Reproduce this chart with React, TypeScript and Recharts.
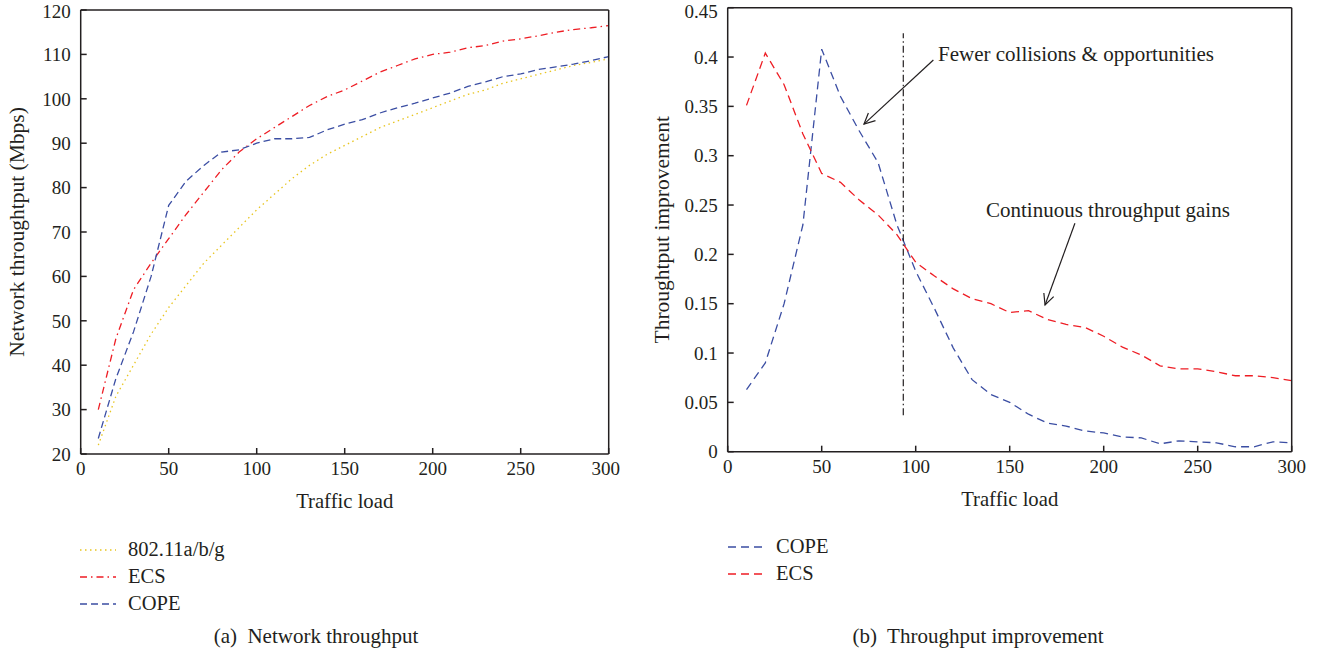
import React from 'react';
import { LineChart, Line, XAxis, YAxis, ReferenceLine, ReferenceDot } from 'recharts';

const trafficLoad = [10, 20, 30, 40, 50, 60, 70, 80, 90, 100, 110, 120, 130, 140, 150, 160, 170, 180, 190, 200, 210, 220, 230, 240, 250, 260, 270, 280, 290, 300];

const base80211 = [22, 33, 40, 47, 53, 58, 63, 67, 71, 75, 78.5, 82, 85, 87.5, 89.5, 91.5, 93.5, 95, 96.5, 98, 99.5, 101, 102, 103.5, 104.5, 105.5, 106.5, 107.5, 108.2, 109];
const ecsThroughput = [30, 46, 57, 63, 68.5, 74, 79, 84, 88, 91, 93.5, 96, 98.5, 100.5, 102, 104, 106, 107.5, 109, 110, 110.5, 111.5, 112, 113, 113.5, 114.2, 115, 115.6, 116, 116.5];
const copeThroughput = [23.5, 37, 47.5, 60, 76, 81.5, 85, 88, 88.5, 90, 91, 91, 91.3, 93, 94.3, 95.3, 96.8, 98, 99, 100.2, 101.3, 102.8, 103.8, 105, 105.6, 106.6, 107.2, 107.8, 108.6, 109.5];

const copeImprovement = [0.063, 0.09, 0.15, 0.23, 0.408, 0.36, 0.325, 0.293, 0.23, 0.183, 0.145, 0.105, 0.073, 0.058, 0.05, 0.038, 0.029, 0.026, 0.021, 0.019, 0.015, 0.014, 0.008, 0.011, 0.01, 0.009, 0.005, 0.005, 0.01, 0.009];
const ecsImprovement = [0.351, 0.404, 0.372, 0.322, 0.282, 0.273, 0.255, 0.24, 0.22, 0.192, 0.178, 0.165, 0.155, 0.15, 0.141, 0.143, 0.134, 0.129, 0.126, 0.117, 0.106, 0.098, 0.087, 0.084, 0.084, 0.081, 0.077, 0.077, 0.075, 0.072];

const xTicks = [0, 50, 100, 150, 200, 250, 300];
const leftYTicks = [20, 30, 40, 50, 60, 70, 80, 90, 100, 110, 120];
const rightYTicks = [0, 0.05, 0.1, 0.15, 0.2, 0.25, 0.3, 0.35, 0.4, 0.45];

const FONT = '"Liberation Serif", "DejaVu Serif", serif';
const INK = '#231f20';
const RED = '#ee1d24';
const BLUE = '#3b4ea3';
const YELLOW = '#e8c520';

const leftData = trafficLoad.map((load, i) => ({
  load,
  base: base80211[i],
  ecs: ecsThroughput[i],
  cope: copeThroughput[i],
}));
const rightData = trafficLoad.map((load, i) => ({
  load,
  cope: copeImprovement[i],
  ecs: ecsImprovement[i],
}));

const leftSeries = [
  { key: 'base', name: '802.11a/b/g', color: YELLOW, dash: '1.5 3.5' },
  { key: 'ecs', name: 'ECS', color: RED, dash: '7 4 1.5 4' },
  { key: 'cope', name: 'COPE', color: BLUE, dash: '7 4' },
];
const rightSeries = [
  { key: 'cope', name: 'COPE', color: BLUE, dash: '8 5' },
  { key: 'ecs', name: 'ECS', color: RED, dash: '8 5' },
];

const tickStyle = { fontFamily: FONT, fontSize: 19, fill: INK };

function LegendBox({ series, left, top }: { series: typeof leftSeries; left: number; top: number }) {
  return (
    <div style={{ position: 'absolute', left, top, fontFamily: FONT, fontSize: 20.5, color: INK }}>
      {series.map((s) => (
        <div key={s.name} style={{ display: 'flex', alignItems: 'center', height: 27 }}>
          <svg width={36} height={10} style={{ marginRight: 12 }}>
            <line x1={0} y1={5} x2={36} y2={5} stroke={s.color} strokeWidth={1.3} strokeDasharray={s.dash} />
          </svg>
          <span>{s.name}</span>
        </div>
      ))}
    </div>
  );
}

const rotatedLabel = (text: string, dx: number) => (props: any) => {
  const vb = props.viewBox || {};
  const cx = vb.x + dx;
  const cy = vb.y + vb.height / 2;
  return (
    <text x={cx} y={cy} transform={`rotate(-90 ${cx} ${cy})`} textAnchor="middle" dominantBaseline="central"
      style={{ fontFamily: FONT, fontSize: 21.5, fill: INK }}>
      {text}
    </text>
  );
};

const bottomLabel = (props: any) => {
  const vb = props.viewBox || {};
  return (
    <text x={vb.x + vb.width / 2} y={vb.y + 54} textAnchor="middle" style={{ fontFamily: FONT, fontSize: 20.7, fill: INK }}>
      Traffic load
    </text>
  );
};

const arrowShape = (props: any) => {
  const { x1, y1, x2, y2 } = props;
  const ang = Math.atan2(y2 - y1, x2 - x1);
  const len = 12;
  const spread = 0.45;
  const ax = x2 - len * Math.cos(ang - spread);
  const ay = y2 - len * Math.sin(ang - spread);
  const bx = x2 - len * Math.cos(ang + spread);
  const by = y2 - len * Math.sin(ang + spread);
  return (
    <g>
      <line x1={x1} y1={y1} x2={x2} y2={y2} stroke={INK} strokeWidth={1.2} />
      <polyline points={`${ax},${ay} ${x2},${y2} ${bx},${by}`} fill="none" stroke={INK} strokeWidth={1.2} />
    </g>
  );
};

const textShape = (text: string) => (props: any) => (
  <text x={props.cx} y={props.cy} textAnchor="start" style={{ fontFamily: FONT, fontSize: 21, fill: INK }}>
    {text}
  </text>
);

const fmtRight = (v: number) => String(Number(v.toFixed(2)));

export default function App() {
  return (
    <div style={{ position: 'absolute', left: 0, top: 0, width: 1324, height: 652, background: '#fff' }}>
      <div style={{ position: 'absolute', left: 0, top: 0 }}>
        <LineChart width={620} height={652} data={leftData} margin={{ top: 5, right: 6.3, left: 20.7, bottom: 138 }}>
          <XAxis type="number" dataKey="load" domain={[0, 300]} ticks={xTicks} height={60}
            stroke={INK} strokeWidth={1.5} tickSize={-6} tickMargin={14} tick={tickStyle}
            label={{ content: bottomLabel }} />
          <XAxis xAxisId="top" orientation="top" type="number" dataKey="load" domain={[0, 300]} ticks={xTicks} height={5}
            stroke={INK} strokeWidth={1.5} tickSize={-6} tick={false} />
          <YAxis type="number" domain={[20, 120]} ticks={leftYTicks} width={60}
            stroke={INK} strokeWidth={1.5} tickSize={-6} tickMargin={16} tick={tickStyle}
            label={{ content: rotatedLabel('Network throughtput (Mbps)', -3.7) }} />
          <YAxis yAxisId="right" orientation="right" type="number" domain={[20, 120]} ticks={leftYTicks} width={5}
            stroke={INK} strokeWidth={1.5} tickSize={-6} tick={false} />
          {leftSeries.map((s) => (
            <Line key={s.key} type="linear" dataKey={s.key} name={s.name} stroke={s.color} strokeWidth={1.3}
              strokeDasharray={s.dash} dot={false} isAnimationActive={false} />
          ))}
        </LineChart>
      </div>
      <div style={{ position: 'absolute', left: 640, top: 0 }}>
        <LineChart width={684} height={652} data={rightData} margin={{ top: 2.7, right: 27.3, left: 27.7, bottom: 140.3 }}>
          <XAxis type="number" dataKey="load" domain={[0, 300]} ticks={xTicks} height={60}
            stroke={INK} strokeWidth={1.5} tickSize={-6} tickMargin={14} tick={tickStyle}
            label={{ content: bottomLabel }} />
          <XAxis xAxisId="top" orientation="top" type="number" dataKey="load" domain={[0, 300]} ticks={xTicks} height={5}
            stroke={INK} strokeWidth={1.5} tickSize={-6} tick={false} />
          <YAxis type="number" domain={[0, 0.45]} ticks={rightYTicks} width={60} tickFormatter={fmtRight}
            stroke={INK} strokeWidth={1.5} tickSize={-6} tickMargin={16} tick={tickStyle}
            label={{ content: rotatedLabel('Throughtput improvement', -5.7) }} />
          <YAxis yAxisId="right" orientation="right" type="number" domain={[0, 0.45]} ticks={rightYTicks} width={5}
            stroke={INK} strokeWidth={1.5} tickSize={-6} tick={false} />
          {rightSeries.map((s) => (
            <Line key={s.key} type="linear" dataKey={s.key} name={s.name} stroke={s.color} strokeWidth={1.3}
              strokeDasharray={s.dash} dot={false} isAnimationActive={false} />
          ))}
          <ReferenceLine segment={[{ x: 93.4, y: 0.037 }, { x: 93.4, y: 0.424 }]} stroke={INK} strokeWidth={1.2}
            strokeDasharray="7 3 1.5 3" ifOverflow="visible" />
          <ReferenceLine segment={[{ x: 109.4, y: 0.397 }, { x: 72.5, y: 0.332 }]} shape={arrowShape} ifOverflow="visible" />
          <ReferenceLine segment={[{ x: 184.7, y: 0.2315 }, { x: 168.8, y: 0.1487 }]} shape={arrowShape} ifOverflow="visible" />
          <ReferenceDot x={111.9} y={0.396} r={0} shape={textShape('Fewer collisions & opportunities')} ifOverflow="visible" />
          <ReferenceDot x={137.4} y={0.238} r={0} shape={textShape('Continuous throughput gains')} ifOverflow="visible" />
        </LineChart>
      </div>
      <LegendBox series={leftSeries} left={80} top={536} />
      <LegendBox series={rightSeries} left={728} top={533} />
      <div style={{ position: 'absolute', left: 0, top: 626, width: 632, textAlign: 'center', fontFamily: FONT, fontSize: 21, lineHeight: '21px', color: INK, whiteSpace: 'pre' }}>
        (a)  Network throughput
      </div>
      <div style={{ position: 'absolute', left: 662, top: 626, width: 632, textAlign: 'center', fontFamily: FONT, fontSize: 21, lineHeight: '21px', color: INK, whiteSpace: 'pre' }}>
        (b)  Throughput improvement
      </div>
    </div>
  );
}
